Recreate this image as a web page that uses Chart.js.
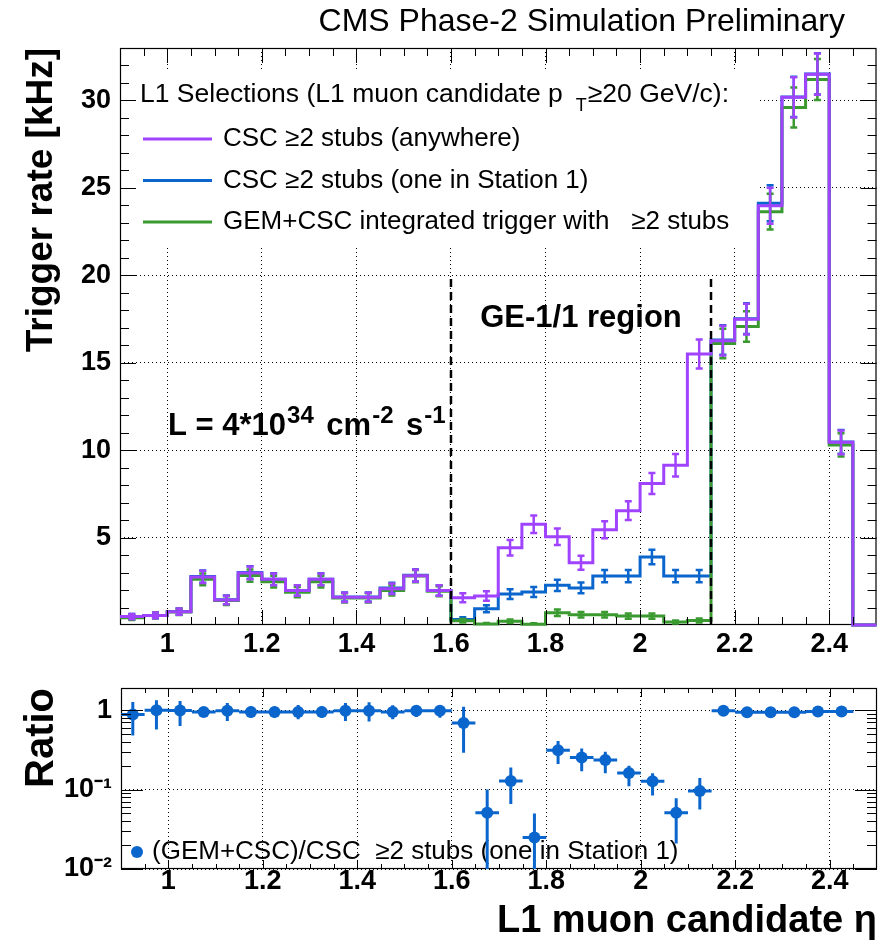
<!DOCTYPE html>
<html>
<head>
<meta charset="utf-8">
<title>L1 muon trigger rate vs eta</title>
<script src="https://cdn.jsdelivr.net/npm/chart.js@4.4.1/dist/chart.umd.min.js"></script>
<style>
  html, body { margin: 0; padding: 0; background: #fff; }
  #page { position: relative; width: 883px; height: 949px; }
  canvas { position: absolute; left: 0; }
  #rateChart { top: 0; }
  #ratioChart { top: 680px; }
</style>
</head>
<body>
<div id="page">
  <canvas id="rateChart" width="883" height="680"></canvas>
  <canvas id="ratioChart" width="883" height="269"></canvas>
</div>
<script>
// eta binning (bin width 0.05)
var etaEdges = [0.90, 0.95, 1.00, 1.05, 1.10, 1.15, 1.20, 1.25, 1.30, 1.35, 1.40, 1.45, 1.50, 1.55, 1.60,
                1.65, 1.70, 1.75, 1.80, 1.85, 1.90, 1.95, 2.00, 2.05, 2.10, 2.15,
                2.20, 2.25, 2.30, 2.35, 2.40, 2.45, 2.50];
var etaCenters = [0.925, 0.975, 1.025, 1.075, 1.125, 1.175, 1.225, 1.275, 1.325, 1.375, 1.425, 1.475, 1.525, 1.575,
                  1.625, 1.675, 1.725, 1.775, 1.825, 1.875, 1.925, 1.975, 2.025, 2.075, 2.125,
                  2.175, 2.225, 2.275, 2.325, 2.375, 2.425, 2.475];

// trigger rates [kHz] per bin
var rateAnywhere = [0.48, 0.55, 0.76, 2.75, 1.43, 2.98, 2.61, 1.98, 2.61, 1.58, 1.58, 2.08, 2.82, 1.97,
                    1.56, 1.66, 4.42, 5.76, 5.05, 3.56, 5.45, 6.54, 8.09, 9.14, 15.5,
                    16.26, 17.49, 23.98, 30.18, 31.5, 10.45, 0];
var errAnywhere = [0.15, 0.16, 0.18, 0.35, 0.25, 0.36, 0.34, 0.30, 0.34, 0.26, 0.26, 0.30, 0.35, 0.30,
                   0.26, 0.27, 0.44, 0.50, 0.47, 0.40, 0.49, 0.54, 0.60, 0.64, 0.83,
                   0.85, 0.88, 1.03, 1.15, 1.18, 0.68, 0];
var rateStation1 = [0.48, 0.55, 0.77, 2.77, 1.44, 3.00, 2.62, 1.98, 2.62, 1.60, 1.60, 2.12, 2.84, 1.98,
                    0.32, 0.93, 1.77, 1.89, 2.27, 2.12, 2.80, 2.80, 3.89, 2.80, 2.80,
                    16.3, 17.52, 24.12, 30.2, 31.52, 10.47, 0];
var errStation1 = [0.15, 0.16, 0.18, 0.35, 0.25, 0.36, 0.34, 0.30, 0.34, 0.26, 0.26, 0.30, 0.35, 0.30,
                   0.12, 0.20, 0.28, 0.29, 0.32, 0.31, 0.35, 0.35, 0.41, 0.35, 0.35,
                   0.85, 0.88, 1.03, 1.15, 1.18, 0.68, 0];
var rateGemCsc = [0.42, 0.55, 0.75, 2.61, 1.40, 2.83, 2.48, 1.88, 2.48, 1.55, 1.55, 1.98, 2.80, 1.93,
                  0.25, 0.06, 0.22, 0.05, 0.70, 0.59, 0.59, 0.51, 0.51, 0.17, 0.26,
                  16.1, 17.07, 23.64, 29.6, 31.2, 10.3, 0];
var errGemCsc = [0.14, 0.16, 0.18, 0.34, 0.25, 0.35, 0.33, 0.29, 0.33, 0.26, 0.26, 0.29, 0.35, 0.29,
                 0.10, 0.05, 0.10, 0.05, 0.18, 0.16, 0.16, 0.15, 0.15, 0.09, 0.11,
                 0.84, 0.87, 1.02, 1.14, 1.17, 0.67, 0];

// (GEM+CSC)/CSC ratio per bin (no entry for the last, empty bin) with error band limits
var ratioValues = [0.88, 1.00, 0.99, 0.95, 0.98, 0.95, 0.95, 0.95, 0.95, 0.98, 0.98, 0.95, 0.98, 0.98,
                   0.69, 0.051, 0.128, 0.025, 0.313, 0.253, 0.235, 0.162, 0.127, 0.051, 0.096,
                   0.98, 0.94, 0.94, 0.94, 0.96, 0.96];
var ratioLow = [0.48, 0.57, 0.63, 0.83, 0.73, 0.80, 0.81, 0.77, 0.80, 0.73, 0.72, 0.77, 0.82, 0.80,
                0.29, 0.001, 0.066, 0.001, 0.21, 0.17, 0.16, 0.11, 0.084, 0.021, 0.056,
                0.93, 0.89, 0.89, 0.90, 0.92, 0.90];
var ratioHigh = [1.27, 1.33, 1.30, 1.09, 1.23, 1.12, 1.10, 1.16, 1.12, 1.23, 1.26, 1.15, 1.12, 1.13,
                 1.10, 0.10, 0.19, 0.05, 0.41, 0.33, 0.30, 0.20, 0.16, 0.078, 0.14,
                 1.03, 0.99, 0.99, 0.99, 1.00, 1.02];

// axes
var xTickValues = [1.0, 1.2, 1.4, 1.6, 1.8, 2.0, 2.2, 2.4];
var xTickLabels = ['1', '1.2', '1.4', '1.6', '1.8', '2', '2.2', '2.4'];
var rateTickValues = [5, 10, 15, 20, 25, 30];
var rateTickLabels = ['5', '10', '15', '20', '25', '30'];
var ratioTickValues = [0.01, 0.1, 1];
var ratioTickLabels = ['10\u207B\u00B2', '10\u207B\u00B9', '1'];
var ratioMinorTicks = [0.02, 0.03, 0.04, 0.05, 0.06, 0.07, 0.08, 0.09, 0.2, 0.3, 0.4, 0.5, 0.6, 0.7, 0.8, 0.9];

// GE-1/1 region boundaries
var regionEdges = [1.6, 2.15];
var regionTop = 20;

var seriesLabels = ['CSC \u22652 stubs (anywhere)', 'CSC \u22652 stubs (one in Station 1)',
                    'GEM+CSC integrated trigger with   \u22652 stubs'];
var seriesColors = ['#a043ff', '#0a66cc', '#3a9a30'];
var ratioColor = '#0a66cc';

var FONT = "'Liberation Sans', Arial, Helvetica, sans-serif";
var tickFont = { family: FONT, size: 27, weight: 'bold' };

// step histogram: one point per lower bin edge plus the last upper edge
function stepPoints(values) {
    var pts = values.map(function (v, i) { return { x: etaEdges[i], y: v }; });
    pts.push({ x: etaEdges[values.length], y: values[values.length - 1] });
    return pts;
}

// vertical error bars as separate segments
function errorPoints(values, errs) {
    var pts = [];
    values.forEach(function (v, i) {
        if (!errs[i]) return;
        pts.push({ x: etaCenters[i], y: v - errs[i] }, { x: etaCenters[i], y: v + errs[i] }, { x: etaCenters[i], y: null });
    });
    return pts;
}

function histSet(values, color, order) {
    return { data: stepPoints(values), stepped: true, borderColor: color, borderWidth: 3,
             pointRadius: 0, fill: false, order: order, clip: 4 };
}
function errSet(values, errs, color, order) {
    return { data: errorPoints(values, errs), borderColor: color, borderWidth: 2.5,
             pointStyle: 'line', pointRadius: 3.5, pointBorderColor: color, pointBorderWidth: 2.5,
             fill: false, order: order };
}

function regionPoints() {
    var pts = [];
    regionEdges.forEach(function (x) {
        pts.push({ x: x, y: 0 }, { x: x, y: regionTop }, { x: x, y: null });
    });
    return pts;
}

// frame round the plot area (drawn under the data, like ROOT)
function drawBox(chart) {
    var ctx = chart.ctx, a = chart.chartArea;
    ctx.save();
    ctx.strokeStyle = '#000';
    ctx.lineWidth = 1.2;
    ctx.strokeRect(a.left + 0.5, a.top + 0.5, a.right - a.left - 1, a.bottom - a.top - 1);
    ctx.restore();
}

// ticks inside the frame on all four sides
function drawTicks(chart, t) {
    var ctx = chart.ctx, a = chart.chartArea, xs = chart.scales.x, ys = chart.scales.y;
    ctx.save();
    ctx.strokeStyle = '#000';
    ctx.lineWidth = 1;
    ctx.beginPath();
    function vtick(v, len) {
        var px = Math.round(xs.getPixelForValue(v)) + 0.5;
        ctx.moveTo(px, a.bottom); ctx.lineTo(px, a.bottom - len);
        ctx.moveTo(px, a.top); ctx.lineTo(px, a.top + len);
    }
    function htick(v, len) {
        var py = Math.round(ys.getPixelForValue(v)) + 0.5;
        ctx.moveTo(a.left, py); ctx.lineTo(a.left + len, py);
        ctx.moveTo(a.right, py); ctx.lineTo(a.right - len, py);
    }
    etaEdges.slice(1, -1).forEach(function (v) { vtick(v, t.xMinor); });
    xTickValues.forEach(function (v) { vtick(v, t.xMajor); });
    t.yMinorValues.forEach(function (v) { htick(v, t.yMinor); });
    t.yMajorValues.forEach(function (v) { htick(v, t.yMajor); });
    ctx.stroke();
    ctx.restore();
}

var rateMinor = [];
for (var k = 1; k < 33; k++) if (k % 5) rateMinor.push(k);

var ratePlugin = {
    id: 'rateDecor',
    beforeDatasetsDraw: function (chart) {
        var ctx = chart.ctx, a = chart.chartArea, xs = chart.scales.x;
        ctx.save();
        // legend box hides the grid behind it
        ctx.fillStyle = '#fff';
        ctx.fillRect(a.left + 1, a.top + 22, 757 - a.left - 1, 245 - a.top - 22);
        drawBox(chart);

        ctx.fillStyle = '#000';
        ctx.textBaseline = 'middle';
        ctx.textAlign = 'left';
        var x0 = a.left + 20, y0 = 95;
        ctx.font = '26.5px ' + FONT;
        var head = 'L1 Selections (L1 muon candidate p';
        ctx.fillText(head, x0, y0);
        var xt = x0 + ctx.measureText(head).width + 13;
        ctx.font = '18px ' + FONT;
        ctx.fillText('T', xt, y0 + 11);
        xt += ctx.measureText('T').width + 1;
        ctx.font = '26.5px ' + FONT;
        ctx.fillText('\u226520 GeV/c):', xt, y0);

        ctx.font = '26px ' + FONT;
        seriesLabels.forEach(function (label, i) {
            var y = 139 + i * 41.5;
            ctx.strokeStyle = seriesColors[i];
            ctx.lineWidth = 3;
            ctx.beginPath();
            ctx.moveTo(143, y); ctx.lineTo(212, y);
            ctx.stroke();
            ctx.fillText(label, 223, y);
        });

        // region label
        ctx.font = 'bold 31px ' + FONT;
        ctx.textAlign = 'center';
        var xr = (xs.getPixelForValue(regionEdges[0]) + xs.getPixelForValue(regionEdges[1])) / 2;
        ctx.fillText('GE-1/1 region', xr, 318);

        // luminosity
        ctx.textAlign = 'left';
        ctx.textBaseline = 'alphabetic';
        var parts = [['L = 4*10', 0, 31], ['34', 12, 24], [' cm', 0, 31], ['-2', 12, 24], [' s', 0, 31], ['-1', 12, 24]];
        var xl = 168;
        parts.forEach(function (p) {
            ctx.font = 'bold ' + p[2] + 'px ' + FONT;
            ctx.fillText(p[0], xl, 435 - p[1]);
            xl += ctx.measureText(p[0]).width + (p[1] ? 4 : 1);
        });
        ctx.restore();
    },
    afterDraw: function (chart) {
        drawTicks(chart, { xMinor: 8, xMajor: 15, yMinor: 9, yMajor: 16,
                           yMinorValues: rateMinor, yMajorValues: rateTickValues });
        var ctx = chart.ctx;
        ctx.save();
        ctx.fillStyle = '#000';
        ctx.font = '32px ' + FONT;
        ctx.textAlign = 'right';
        ctx.textBaseline = 'middle';
        ctx.fillText('CMS Phase-2 Simulation Preliminary', 845, 22);
        ctx.restore();
    }
};

var ratioPlugin = {
    id: 'ratioDecor',
    beforeDatasetsDraw: function (chart) {
        var ctx = chart.ctx;
        drawBox(chart);
        ctx.save();
        ctx.fillStyle = ratioColor;
        ctx.beginPath();
        ctx.arc(137, 172, 6, 0, Math.PI * 2);
        ctx.fill();
        ctx.fillStyle = '#000';
        ctx.font = '26px ' + FONT;
        ctx.textBaseline = 'middle';
        ctx.fillText('(GEM+CSC)/CSC  \u22652 stubs (one in Station 1)', 152, 172);
        ctx.restore();
    },
    afterDraw: function (chart) {
        drawTicks(chart, { xMinor: 5, xMajor: 9, yMinor: 10, yMajor: 22,
                           yMinorValues: ratioMinorTicks, yMajorValues: ratioTickValues });
    }
};

function xScale(height, pad, title) {
    var s = {
        type: 'linear', min: 0.9, max: 2.5, bounds: 'data',
        afterBuildTicks: function (sc) { sc.ticks = xTickValues.map(function (v) { return { value: v }; }); },
        afterFit: function (sc) { sc.height = height; sc.paddingLeft = 0; sc.paddingRight = 0; },
        ticks: { autoSkip: false, maxRotation: 0, padding: pad, color: '#000', font: tickFont,
                 callback: function (v, i) { return xTickLabels[i]; } },
        grid: { color: '#000', lineWidth: 1, drawTicks: false },
        border: { display: false, dash: [1, 3] }
    };
    if (title) s.title = title;
    return s;
}

// upper pad: trigger rates
new Chart(document.getElementById('rateChart'), {
    type: 'line',
    data: {
        datasets: [
            { data: regionPoints(), borderColor: '#000', borderWidth: 2.5, borderDash: [8, 5],
              pointRadius: 0, fill: false, order: 0 },
            histSet(rateAnywhere, seriesColors[0], 1),
            errSet(rateAnywhere, errAnywhere, seriesColors[0], 1),
            histSet(rateGemCsc, seriesColors[2], 2),
            errSet(rateGemCsc, errGemCsc, seriesColors[2], 2),
            histSet(rateStation1, seriesColors[1], 3),
            errSet(rateStation1, errStation1, seriesColors[1], 3)
        ]
    },
    options: {
        responsive: false,
        animation: false,
        events: [],
        layout: { padding: { top: 48, right: 3, left: 0, bottom: 0 } },
        plugins: { legend: { display: false }, tooltip: { enabled: false } },
        scales: {
            x: xScale(55, 3),
            y: {
                type: 'linear', min: 0, max: 33, bounds: 'data',
                afterBuildTicks: function (sc) { sc.ticks = rateTickValues.map(function (v) { return { value: v }; }); },
                afterFit: function (sc) { sc.width = 120; sc.paddingTop = 0; sc.paddingBottom = 0; },
                ticks: { autoSkip: false, padding: 9, color: '#000', font: tickFont,
                         callback: function (v, i) { return rateTickLabels[i]; } },
                grid: { color: '#000', lineWidth: 1, drawTicks: false },
                border: { display: false, dash: [1, 3] },
                title: { display: true, text: 'Trigger rate [kHz]', align: 'end', color: '#000',
                         font: { family: FONT, size: 37, weight: 'bold' }, padding: { top: 20, bottom: 0 } }
            }
        }
    },
    plugins: [ratePlugin]
});

// lower pad: ratio
var ratioPoints = ratioValues.map(function (v, i) { return { x: etaCenters[i], y: v }; });
var ratioBars = [];
ratioValues.forEach(function (v, i) {
    ratioBars.push({ x: etaCenters[i], y: ratioLow[i] }, { x: etaCenters[i], y: ratioHigh[i] }, { x: etaCenters[i], y: null },
                   { x: etaEdges[i], y: v }, { x: etaEdges[i + 1], y: v }, { x: etaEdges[i + 1], y: null });
});

new Chart(document.getElementById('ratioChart'), {
    type: 'line',
    data: {
        datasets: [
            { data: ratioPoints, showLine: false, pointStyle: 'circle', pointRadius: 6,
              pointBackgroundColor: ratioColor, pointBorderColor: ratioColor, pointBorderWidth: 0, order: 0 },
            { data: ratioBars, borderColor: ratioColor, borderWidth: 3, pointRadius: 0, fill: false, order: 1 }
        ]
    },
    options: {
        responsive: false,
        animation: false,
        events: [],
        layout: { padding: { top: 8, right: 3, left: 0, bottom: 0 } },
        plugins: { legend: { display: false }, tooltip: { enabled: false } },
        scales: {
            x: xScale(80, -4, { display: true, text: 'L1 muon candidate \u03B7', align: 'end', color: '#000',
                                font: { family: FONT, size: 38, weight: 'bold' }, padding: { top: 0, bottom: 5 } }),
            y: {
                type: 'logarithmic', min: 0.01, max: 1.9, bounds: 'data',
                afterBuildTicks: function (sc) { sc.ticks = ratioTickValues.map(function (v) { return { value: v }; }); },
                afterFit: function (sc) { sc.width = 121; sc.paddingTop = 0; sc.paddingBottom = 0; },
                ticks: { autoSkip: false, padding: 9, color: '#000', font: tickFont,
                         callback: function (v, i) { return ratioTickLabels[i]; } },
                grid: { color: '#000', lineWidth: 1, drawTicks: false },
                border: { display: false, dash: [1, 3] },
                title: { display: true, text: 'Ratio', align: 'end', color: '#000',
                         font: { family: FONT, size: 40, weight: 'bold' }, padding: { top: 18, bottom: 0 } }
            }
        }
    },
    plugins: [ratioPlugin]
});
</script>
</body>
</html>
